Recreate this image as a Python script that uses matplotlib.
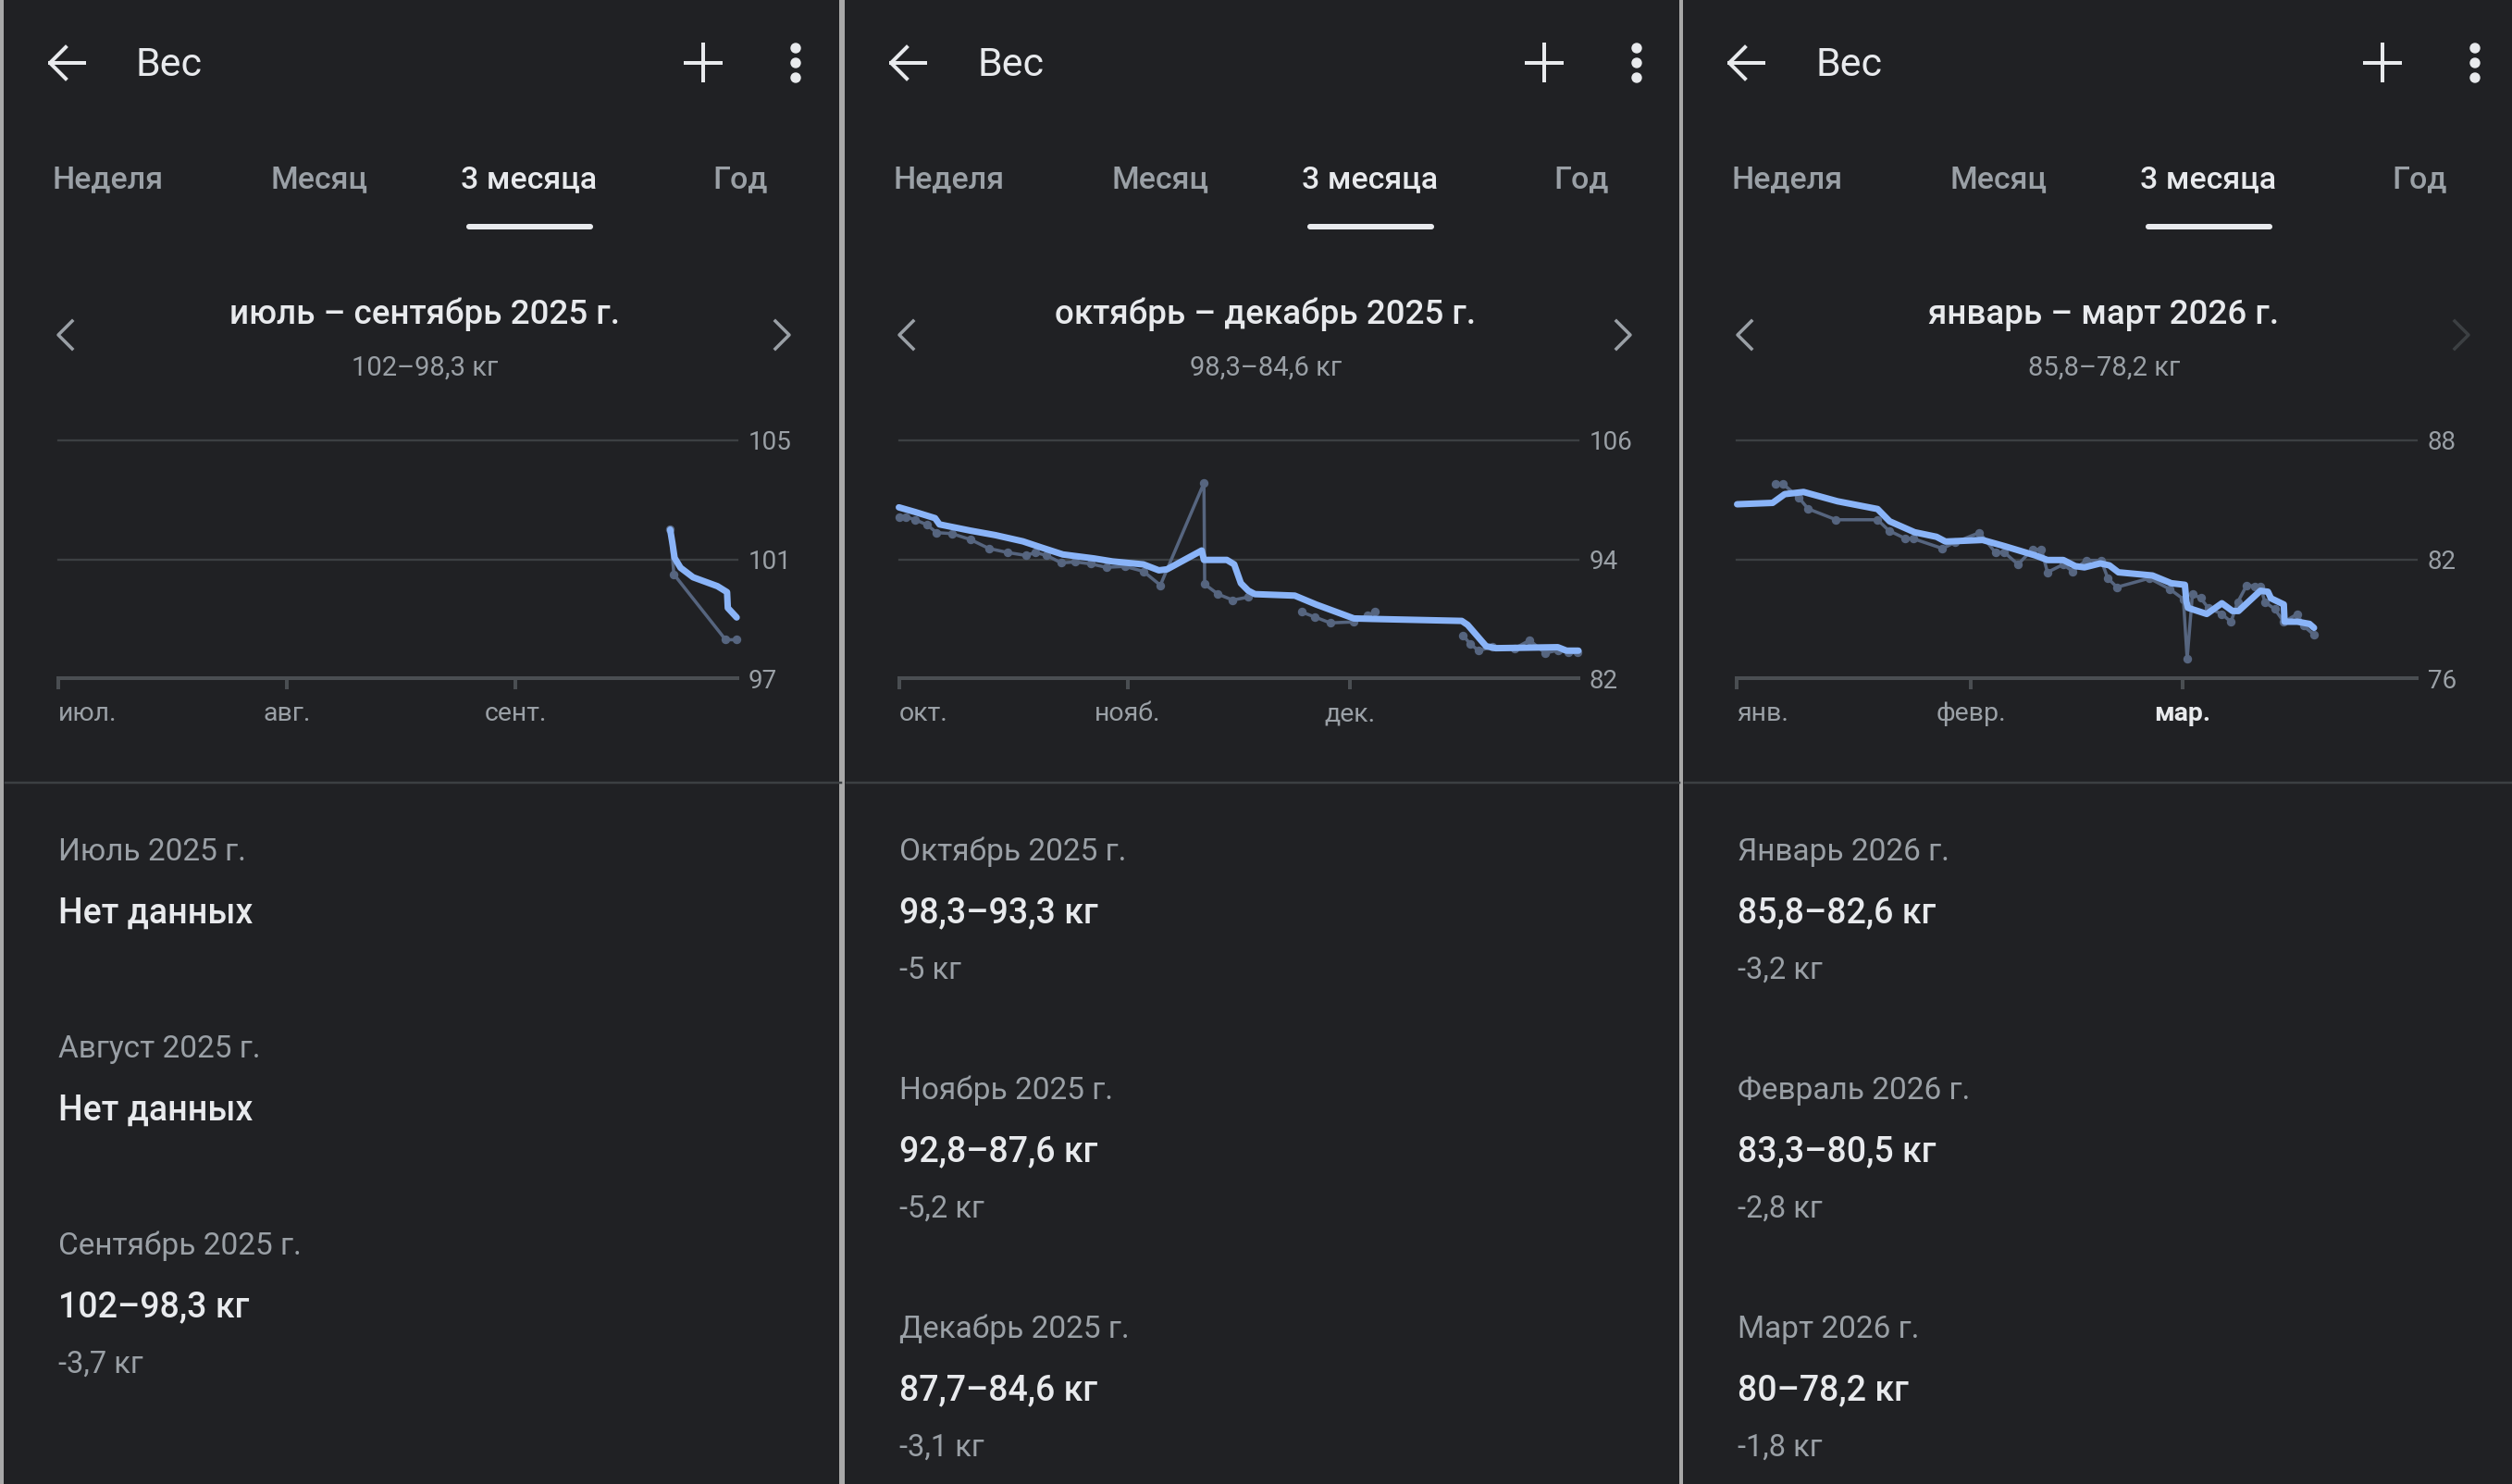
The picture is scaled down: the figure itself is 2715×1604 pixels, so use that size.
import numpy as np
import matplotlib.pyplot as plt
from matplotlib.patches import Rectangle, FancyBboxPatch, Circle

# ---- values ----
quarter_titles = ['июль – сентябрь 2025 г.', 'октябрь – декабрь 2025 г.', 'январь – март 2026 г.']
quarter_days = [92, 92, 90]
month_ticks = [[0, 31, 62], [0, 31, 61], [0, 31, 59]]
month_ticklabels = [['июл.', 'авг.', 'сент.'], ['окт.', 'нояб.', 'дек.'], ['янв.', 'февр.', 'мар.']]
y_ticks = [[97, 101, 105], [82, 94, 106], [76, 82, 88]]

month_names = [['Июль 2025 г.', 'Август 2025 г.', 'Сентябрь 2025 г.'],
               ['Октябрь 2025 г.', 'Ноябрь 2025 г.', 'Декабрь 2025 г.'],
               ['Январь 2026 г.', 'Февраль 2026 г.', 'Март 2026 г.']]
month_first = [[None, None, 102.0], [98.3, 92.8, 87.7], [85.8, 83.3, 80.0]]
month_last = [[None, None, 98.3], [93.3, 87.6, 84.6], [82.6, 80.5, 78.2]]

tabs = ['Неделя', 'Месяц', '3 месяца', 'Год']

# raw measurements (day of quarter, kg); nan breaks the line
q1_raw_day = [82.9, 83.4, 90.4, 91.9]
q1_raw_kg = [102.0, 100.5, 98.3, 98.3]
q1_trend_day = [82.9, 83.2, 83.5, 84.3, 86.0, 89.3, 90.6, 90.7, 91.9]
q1_trend_kg = [102.0, 101.55, 101.05, 100.72, 100.4, 100.1, 99.9, 99.37, 99.05]

q2_raw_day = [0.0, 0.9, 2.2, 3.8, 5.1, 7.2, 9.7, 12.2, 14.7, 17.2, 18.5, 20.0, 22.0, 23.9, 26.0,
              28.1, 30.6, 33.1, 35.4, 41.3, 41.4, 43.2, 45.2, 47.3, np.nan,
              54.5, 56.3, 58.4, 61.6, 63.4, 64.5, np.nan,
              76.4, 77.4, 78.5, 80.4, 83.3, 85.4, 87.5, 89.2, 90.6, 91.9]
q2_raw_kg = [98.3, 98.3, 98.0, 97.5, 96.7, 96.6, 96.0, 95.1, 94.7, 94.4, 94.7, 94.4, 93.65, 93.75, 93.55,
             93.2, 93.3, 92.8, 91.4, 101.7, 91.5, 90.5, 89.9, 90.2, np.nan,
             88.7, 88.2, 87.6, 87.7, 88.35, 88.7, np.nan,
             86.3, 85.45, 84.8, 85.2, 85.0, 85.85, 84.55, 84.85, 84.6, 84.6]
q2_trend_day = [0.0, 2.2, 4.9, 5.5, 9.7, 13.05, 16.8, 19.3, 22.2, 26.4, 28.9, 33.1, 35.2, 36.3,
                41.0, 41.3, 44.4, 45.4, 46.3, 47.3, 48.2, 53.6, 56.5, 61.6, 64.1, 76.2, 77.0,
                79.5, 80.8, 85.0, 89.2, 90.4, 92.0]
q2_trend_kg = [99.25, 98.78, 98.16, 97.53, 96.9, 96.45, 95.82, 95.2, 94.5, 94.1, 93.8, 93.5, 92.9, 93.0,
               94.9, 93.95, 93.95, 93.5, 91.6, 90.85, 90.5, 90.35, 89.45, 88.05, 88.0, 87.8, 87.4,
               85.25, 85.05, 85.1, 85.15, 84.8, 84.8]

q3_raw_day = [5.1, 6.1, 8.2, 9.4, 13.1, 18.6, 20.1, 22.3, 23.3, 27.2, 28.8, 32.1, 34.2, 35.4, 37.2,
              39.1, 40.3, 41.1, 43.2, 44.4, 46.2, 48.2, 49.1, 50.3, 54.6, 57.3, 59.1, 59.6, 60.3,
              61.4, 62.4, 64.2, 65.4, 66.3, 67.5, 68.5, 69.3, 69.9, 71.2, 72.4, 74.2, 75.0, 76.4]
q3_raw_kg = [85.8, 85.8, 85.1, 84.55, 84.0, 84.0, 83.45, 83.05, 83.05, 82.55, 82.85, 83.35, 82.35, 82.35, 81.75,
             82.5, 82.5, 81.35, 81.75, 81.4, 81.95, 81.95, 81.05, 80.6, 81.05, 80.5, 80.0, 77.0, 80.25,
             80.05, 79.55, 79.25, 78.85, 79.85, 80.7, 80.65, 80.65, 79.85, 79.5, 78.85, 79.25, 78.65, 78.2]
q3_trend_day = [0.0, 4.7, 6.3, 8.8, 13.3, 18.6, 20.2, 23.5, 26.4, 27.6, 32.5, 35.4, 39.5, 41.1, 43.2,
                44.8, 46.0, 48.1, 49.3, 50.5, 55.0, 57.5, 59.3, 59.5, 59.7, 62.2, 64.2, 65.6, 66.4,
                69.3, 70.3, 70.7, 72.4, 72.5, 74.2, 75.8, 76.4]
q3_trend_kg = [84.78, 84.85, 85.29, 85.4, 84.93, 84.54, 83.92, 83.37, 83.14, 82.9, 82.98, 82.67, 82.2, 81.97, 81.97,
               81.66, 81.6, 81.8, 81.7, 81.35, 81.19, 80.8, 80.72, 79.87, 79.56, 79.25, 79.79, 79.4, 79.4,
               80.42, 80.37, 80.04, 79.73, 78.86, 78.86, 78.75, 78.55]

raw_days = [q1_raw_day, q2_raw_day, q3_raw_day]
raw_kgs = [q1_raw_kg, q2_raw_kg, q3_raw_kg]
trend_days = [q1_trend_day, q2_trend_day, q3_trend_day]
trend_kgs = [q1_trend_kg, q2_trend_kg, q3_trend_kg]

# ---- look ----
W, H = 2715, 1604
BG = '#202124'
WHITE = '#e8eaed'
GREY = '#9aa0a6'
GRID = '#3c4043'
AXIS = '#4a4e52'
TREND = '#8ab4f8'
RAW = '#56657f'
SEP = '#a8a8a8'
PX = 0.72  # points per pixel at dpi 100

plt.rcParams['font.family'] = ['Roboto', 'DejaVu Sans']


def fmt(v):
    s = f'{v:.1f}'.rstrip('0').rstrip('.')
    return s.replace('.', ',')


fig = plt.figure(figsize=(W / 100, H / 100), dpi=100, facecolor=BG)
ui = fig.add_axes([0, 0, 1, 1])
ui.set_xlim(0, W)
ui.set_ylim(H, 0)
ui.axis('off')
ui.set_facecolor(BG)

panel_x = [0, 909, 1815]
panel_w = [909, 906, 900]

for i in range(3):
    o = panel_x[i]

    # top bar
    ui.plot([o + 54, o + 91], [68, 68], color=WHITE, lw=4 * PX)
    ui.plot([o + 71, o + 54, o + 71], [51, 68, 85], color=WHITE, lw=4 * PX)
    ui.text(o + 147, 70, 'Вес', color=WHITE, fontsize=31, va='center', ha='left')
    ui.plot([o + 741, o + 779], [67.5, 67.5], color=WHITE, lw=4 * PX)
    ui.plot([o + 760, o + 760], [48, 87], color=WHITE, lw=4 * PX)
    for yy in (52, 68, 84):
        ui.add_patch(Circle((o + 860, yy), 5, color=WHITE))

    # tabs
    for t, cx in zip(tabs, [117, 345, 572, 800]):
        sel = t == '3 месяца'
        ui.text(o + cx, 194, t, color=WHITE if sel else GREY, fontsize=24.5,
                fontweight='medium', ha='center', va='center')
    ui.add_patch(FancyBboxPatch((o + 504, 242), 137, 6,
                                boxstyle='round,pad=0,rounding_size=3', color=WHITE, lw=0))

    # period title
    ui.text(o + 459, 340, quarter_titles[i], color=WHITE, fontsize=26.5,
            fontweight='medium', ha='center', va='center')
    firsts = [v for v in month_first[i] if v is not None]
    lasts = [v for v in month_last[i] if v is not None]
    ui.text(o + 459, 398, f'{fmt(firsts[0])}–{fmt(lasts[-1])} кг', color=GREY,
            fontsize=21, ha='center', va='center')
    ui.plot([o + 78, o + 63, o + 78], [347, 362, 377], color=GREY, lw=3.5 * PX)
    ui.plot([o + 838, o + 853, o + 838], [347, 362, 377],
            color=GRID if i == 2 else GREY, lw=3.5 * PX)

    # separator under chart
    ui.plot([o + 6, o + panel_w[i]], [846, 846], color=GRID, lw=2.5 * PX)

    # monthly summaries
    y = 921
    for name, a, b in zip(month_names[i], month_first[i], month_last[i]):
        ui.text(o + 63, y, name, color=GREY, fontsize=24, ha='left', va='center')
        if a is None:
            ui.text(o + 63, y + 66, 'Нет данных', color=WHITE, fontsize=27,
                    fontweight='medium', ha='left', va='center')
            y += 213
        else:
            ui.text(o + 63, y + 66, f'{fmt(a)}–{fmt(b)} кг', color=WHITE, fontsize=27,
                    fontweight='medium', ha='left', va='center')
            ui.text(o + 63, y + 128, f'{fmt(b - a)} кг', color=GREY, fontsize=23.5,
                    ha='left', va='center')
            y += 258

    # chart
    x0 = o + 62.5
    x1 = x0 + 734.5
    y0, y1 = 476, 733.3
    ax = fig.add_axes([x0 / W, 1 - y1 / H, (x1 - x0) / W, (y1 - y0) / H])
    ax.set_facecolor('none')
    ax.set_xlim(0, quarter_days[i])
    ax.set_ylim(y_ticks[i][0], y_ticks[i][-1])

    ax.plot(raw_days[i], raw_kgs[i], color=RAW, lw=3.5 * PX, marker='o', ms=8 * PX,
            solid_joinstyle='round', solid_capstyle='round', clip_on=False, zorder=2)
    ax.plot(trend_days[i], trend_kgs[i], color=TREND, lw=7 * PX,
            solid_joinstyle='round', solid_capstyle='round', clip_on=False, zorder=3)

    ax.set_yticks(y_ticks[i])
    ax.yaxis.tick_right()
    ax.tick_params(axis='y', length=0, pad=8.5, labelsize=20, labelcolor=GREY)
    ax.grid(axis='y', color=GRID, lw=2.3 * PX)
    for gl in ax.get_ygridlines():
        gl.set_clip_on(False)
    ax.set_axisbelow(True)

    ax.set_xticks(month_ticks[i], month_ticklabels[i])
    ax.tick_params(axis='x', length=12 * PX, width=4 * PX, color=AXIS, pad=9.5,
                   labelsize=20.5, labelcolor=GREY)
    labels = ax.get_xticklabels()
    labels[0].set_horizontalalignment('left')
    if i == 2:
        labels[2].set_color(WHITE)
        labels[2].set_fontweight('bold')

    for s in ('top', 'left', 'right'):
        ax.spines[s].set_visible(False)
    ax.spines['bottom'].set_color(AXIS)
    ax.spines['bottom'].set_linewidth(4 * PX)

# panel borders
ui.add_patch(Rectangle((0, 0), 4, H, color=SEP, lw=0))
ui.add_patch(Rectangle((906.5, 0), 6.5, H, color=SEP, lw=0))
ui.add_patch(Rectangle((1815, 0), 3.5, H, color=SEP, lw=0))

fig.savefig('out.png', dpi=100, facecolor=BG)
